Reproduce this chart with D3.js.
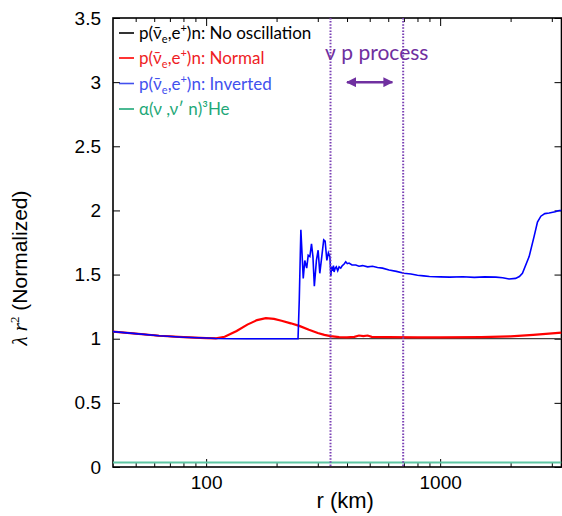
<!DOCTYPE html>
<html><head><meta charset="utf-8">
<script src="https://cdn.jsdelivr.net/npm/d3@7/dist/d3.min.js"></script>
<style>body{margin:0;background:#fff}svg{display:block}</style>
</head><body>
<svg id="chart" width="562" height="516"></svg>
<script>
// ---- data ----
const noOscR = [40, 50, 63, 80, 100, 110, 130, 3300];
const noOscV = [1.055, 1.04, 1.023, 1.012, 1.005, 1.002, 1.0, 1.0];

const normalR = [40, 50, 63, 80, 100, 110, 120, 135, 150, 165, 180, 195, 210, 230, 250, 275, 300, 320, 340, 370, 400, 430, 450, 470, 490, 510, 600, 800, 1000, 1500, 2000, 2500, 3300];
const normalV = [1.055, 1.04, 1.023, 1.012, 1.005, 1.003, 1.015, 1.06, 1.11, 1.145, 1.16, 1.155, 1.14, 1.12, 1.10, 1.07, 1.045, 1.03, 1.02, 1.012, 1.01, 1.015, 1.025, 1.02, 1.025, 1.015, 1.012, 1.01, 1.01, 1.012, 1.018, 1.03, 1.047];

const invertedR = [40, 50, 63, 80, 100, 110, 150, 200, 247, 250, 254, 260, 264, 269, 273, 277.5, 282, 286, 290, 296, 301, 306, 312, 318, 322.5, 328, 333, 338, 341, 344, 347, 350, 352, 356, 360, 365, 370, 376, 382, 388, 395, 401, 408, 420, 436, 450, 466, 490, 514, 540, 567, 605, 650, 700, 750, 800, 850, 900, 1000, 1100, 1250, 1400, 1550, 1730, 1850, 1970, 2100, 2180, 2247, 2400, 2522, 2605, 2694, 2800, 2923, 3100, 3225, 3300];
const invertedV = [1.055, 1.04, 1.023, 1.012, 1.005, 1.002, 1.0, 1.0, 1.0, 1.3, 1.85, 1.47, 1.61, 1.55, 1.65, 1.64, 1.74, 1.64, 1.41, 1.61, 1.69, 1.51, 1.64, 1.77, 1.76, 1.61, 1.67, 1.64, 1.49, 1.56, 1.53, 1.57, 1.52, 1.55, 1.56, 1.53, 1.56, 1.55, 1.57, 1.58, 1.60, 1.585, 1.59, 1.575, 1.575, 1.565, 1.57, 1.56, 1.565, 1.555, 1.55, 1.535, 1.525, 1.51, 1.505, 1.495, 1.49, 1.485, 1.482, 1.48, 1.483, 1.478, 1.482, 1.48, 1.475, 1.465, 1.47, 1.485, 1.51, 1.64, 1.80, 1.91, 1.955, 1.975, 1.98, 1.99, 2.0, 2.0];

const heR = [40, 3300];
const heV = [0.035, 0.035];

const yTicks = [0, 0.5, 1, 1.5, 2, 2.5, 3, 3.5];
const xMajorTicks = [100, 1000];
const xMinorTicks = [50, 60, 70, 80, 90, 200, 300, 400, 500, 600, 700, 800, 900, 2000, 3000];
const nuPBounds = [340, 695];
const arrowEnds = [400, 625];

// ---- layout ----
const svg = d3.select("#chart");
const L = 113, R = 561.5, T = 18, B = 467;
const x = d3.scaleLog().domain([40, 3300]).range([L, R]);
const y = d3.scaleLinear().domain([0, 3.5]).range([B, T]);

const tickFont = "Liberation Sans, Arial, sans-serif";
const legFont = "Lato, 'Open Sans', sans-serif";

function styleAxis(g) {
  g.select(".domain").remove();
  g.selectAll("line").attr("stroke", "#000").attr("stroke-width", 1);
  g.selectAll("text").attr("font-family", tickFont).attr("font-size", 19).attr("fill", "#000");
}
svg.append("g").attr("transform", `translate(0,${B})`)
  .call(d3.axisBottom(x).tickValues(xMajorTicks).tickFormat(d3.format("d")).tickSize(-8).tickPadding(9))
  .call(styleAxis);
svg.append("g").attr("transform", `translate(0,${B})`)
  .call(d3.axisBottom(x).tickValues(xMinorTicks).tickFormat("").tickSize(-4))
  .call(styleAxis);
svg.append("g").attr("transform", `translate(0,${T})`)
  .call(d3.axisTop(x).tickValues(xMajorTicks).tickFormat("").tickSize(-8))
  .call(styleAxis);
svg.append("g").attr("transform", `translate(0,${T})`)
  .call(d3.axisTop(x).tickValues(xMinorTicks).tickFormat("").tickSize(-4))
  .call(styleAxis);
svg.append("g").attr("transform", `translate(${L},0)`)
  .call(d3.axisLeft(y).tickValues(yTicks).tickFormat(d3.format("")).tickSize(-7).tickPadding(12))
  .call(styleAxis);
svg.append("g").attr("transform", `translate(${R},0)`)
  .call(d3.axisRight(y).tickValues(yTicks).tickFormat("").tickSize(-7))
  .call(styleAxis);

svg.append("rect").attr("x", L).attr("y", T).attr("width", R - L).attr("height", B - T)
  .attr("fill", "none").attr("stroke", "#000").attr("stroke-width", 1.6);

svg.append("clipPath").attr("id", "clip").append("rect")
  .attr("x", L).attr("y", T).attr("width", R - L).attr("height", B - T);
const plot = svg.append("g").attr("clip-path", "url(#clip)");

const line = d3.line().x(d => x(d[0])).y(d => y(d[1]));
function series(rs, vs) { return rs.map((r, i) => [r, vs[i]]); }

plot.append("path").datum(series(heR, heV)).attr("d", line)
  .attr("fill", "none").attr("stroke", "#5fc6a3").attr("stroke-width", 2);
plot.append("path").datum(series(noOscR, noOscV)).attr("d", line)
  .attr("fill", "none").attr("stroke", "#444").attr("stroke-width", 1.3);
plot.append("path").datum(series(normalR, normalV)).attr("d", line)
  .attr("fill", "none").attr("stroke", "#ff0000").attr("stroke-width", 2.2);
plot.append("path").datum(series(invertedR, invertedV)).attr("d", line)
  .attr("fill", "none").attr("stroke", "#0000ff").attr("stroke-width", 1.6);

const purple = "#7030a0";
nuPBounds.forEach(r => {
  plot.append("line").attr("x1", x(r)).attr("x2", x(r)).attr("y1", T).attr("y2", B)
    .attr("stroke", "#7a40b4").attr("stroke-width", 2).attr("stroke-dasharray", "1.5,1.6");
});
const defs = svg.append("defs");
defs.append("marker").attr("id", "ah").attr("viewBox", "0 0 10 10").attr("refX", 9).attr("refY", 5)
  .attr("markerWidth", 4).attr("markerHeight", 4).attr("orient", "auto-start-reverse")
  .append("path").attr("d", "M0,0 L10,5 L0,10 z").attr("fill", purple);
svg.append("line").attr("x1", x(arrowEnds[0])).attr("x2", x(arrowEnds[1]))
  .attr("y1", y(3.0)).attr("y2", y(3.0))
  .attr("stroke", purple).attr("stroke-width", 2.5)
  .attr("marker-start", "url(#ah)").attr("marker-end", "url(#ah)");
svg.append("text").attr("x", x(536)).attr("y", 60).attr("text-anchor", "middle")
  .attr("font-family", legFont).attr("font-size", 21).attr("fill", purple).text("ν p process");

// legend
const legend = [
  {c: "#000", lc: "#000", rest: "n: No oscillation"},
  {c: "#ee1c24", lc: "#ff0000", rest: "n: Normal"},
  {c: "#4250ee", lc: "#4250ee", rest: "n: Inverted"},
];
const legY = [33, 58, 83.5, 109];
legend.forEach((e, i) => {
  svg.append("line").attr("x1", 119).attr("x2", 134).attr("y1", legY[i]).attr("y2", legY[i])
    .attr("stroke", e.lc).attr("stroke-width", 1.6);
  const t = svg.append("text").attr("x", 139).attr("y", legY[i] + 6)
    .attr("font-family", legFont).attr("font-size", 17).attr("fill", e.c);
  t.append("tspan").text("p(ν\u0304");
  t.append("tspan").attr("font-size", 11).attr("dy", 4).text("e");
  t.append("tspan").attr("dy", -4).text(",e");
  t.append("tspan").attr("font-size", 11).attr("dy", -7).text("+");
  t.append("tspan").attr("dy", 7).text(")" + e.rest);
});
svg.append("line").attr("x1", 119).attr("x2", 134).attr("y1", legY[3]).attr("y2", legY[3])
  .attr("stroke", "#1fa878").attr("stroke-width", 1.6);
svg.append("text").attr("x", 139).attr("y", legY[3] + 6)
  .attr("font-family", legFont).attr("font-size", 17).attr("fill", "#1fa878")
  .text("α(ν ,ν′ n)³He");

svg.append("text").attr("x", (L + R) / 2 + 8).attr("y", 508).attr("text-anchor", "middle")
  .attr("font-family", tickFont).attr("font-size", 22).text("r (km)");
const yt = svg.append("text").attr("transform", "translate(27,268) rotate(-90)")
  .attr("text-anchor", "middle").attr("font-family", tickFont).attr("font-size", 21);
yt.append("tspan").attr("font-family", "Liberation Serif, serif").attr("font-style", "italic").text("λ r");
yt.append("tspan").attr("font-family", "Liberation Serif, serif").attr("font-size", 13).attr("dy", -8).text("2");
yt.append("tspan").attr("dy", 8).text("  (Normalized)");
</script>
</body></html>
